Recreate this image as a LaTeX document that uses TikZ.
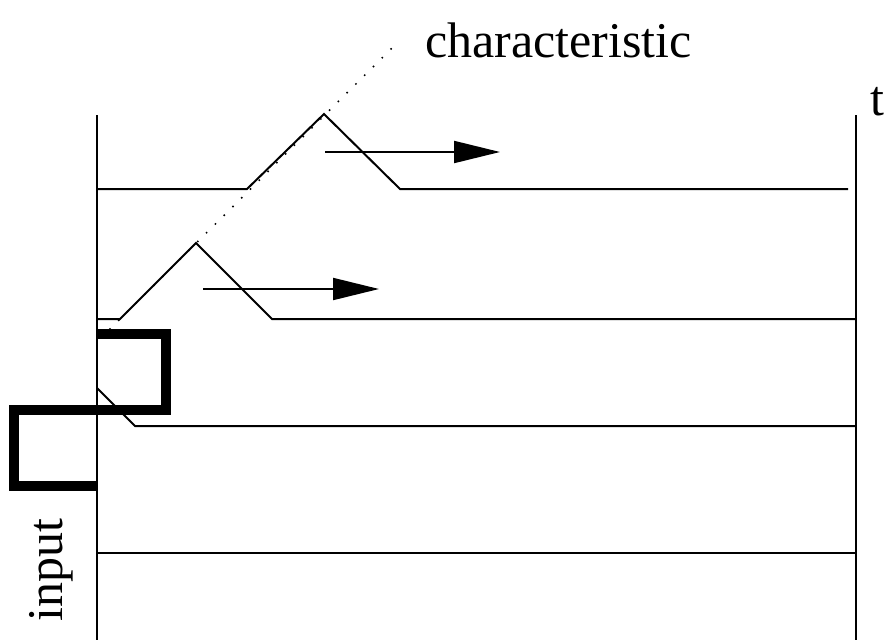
\documentclass[tikz,border=0pt]{standalone}
\usepackage{fontspec}
\setmainfont{Liberation Serif}
\usetikzlibrary{arrows.meta}
\begin{document}
\begin{tikzpicture}[x=1pt,y=-1pt,
  thin line/.style={line width=2pt},
  pulse/.style={line width=10pt, line join=miter},
  dotline/.style={line width=2.2pt, line cap=round, dash pattern=on 0pt off 12.4pt},
  motion/.style={line width=2pt, -{Triangle[length=46pt,width=22pt]}},
  lbl/.style={inner sep=0pt, font=\fontsize{50}{60}\selectfont}]
\useasboundingbox (0,0) rectangle (890,640);
% axes
\coordinate (l0) at (97,115); \coordinate (l1) at (97,640);
\coordinate (r0) at (856,115); \coordinate (r1) at (856,640);
\draw[thin line] (l0) -- (l1);
\draw[thin line] (r0) -- (r1);
% level 1
\draw[thin line] (97,189) -- (247,189) -- (324,114) -- (400,189) -- (848,189);
% level 2
\draw[thin line] (97,319) -- (120,319) -- (196,243) -- (272,319) -- (856,319);
% level 3
\draw[thin line] (97,388) -- (135,426) -- (856,426);
% level 4
\draw[thin line] (97,553) -- (856,553);
% input pulse
\draw[pulse] (97,334) -- (165.5,334) -- (165.5,410) -- (14,410) -- (14,486) -- (97,486);
% characteristic
\coordinate (c0) at (110,329); \coordinate (c1) at (398,42);
\draw[dotline] (c0) -- (c1);
% arrows
\coordinate (a1) at (325,152); \coordinate (b1) at (500,152);
\draw[motion] (a1) -- (b1);
\coordinate (a2) at (203,289); \coordinate (b2) at (379,289);
\draw[motion] (a2) -- (b2);
% labels
\node[lbl, anchor=base west] (char) at (425,57) {characteristic};
\node[lbl, anchor=base west] (t) at (870,115) {t};
\node[lbl, anchor=base west, rotate=90] (inp) at (62,622) {input};
\end{tikzpicture}
\end{document}
